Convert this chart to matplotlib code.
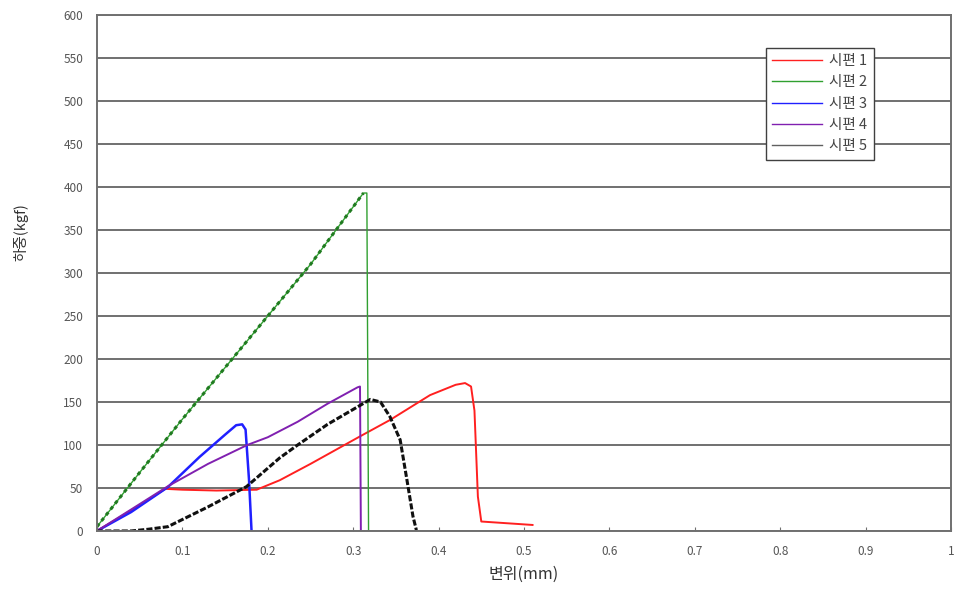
import matplotlib
matplotlib.use("Agg")
import matplotlib.pyplot as plt

plt.rcParams['font.family'] = ['Noto Sans CJK KR', 'DejaVu Sans']

# 시편 1 (red)
x1 = [0.0, 0.02, 0.05, 0.08, 0.1, 0.14, 0.187, 0.214, 0.25, 0.308, 0.343, 0.39, 0.42, 0.431, 0.438, 0.442, 0.446, 0.45, 0.48, 0.51]
y1 = [0, 12, 30, 49, 48, 47, 48, 59, 78, 110, 129, 158, 170, 172, 168, 140, 40, 11, 9, 7]
# 시편 2 (green)
x2 = [0.0, 0.05, 0.1, 0.15, 0.2, 0.25, 0.312, 0.316, 0.318]
y2 = [5, 68, 130, 190, 250, 310, 393, 393, 0]
# 시편 3 (blue)
x3 = [0.0, 0.04, 0.083, 0.12, 0.15, 0.163, 0.17, 0.174, 0.178, 0.181]
y3 = [0, 22, 51, 86, 112, 123, 124, 118, 60, 0]
# 시편 4 (purple)
x4 = [0.0, 0.04, 0.083, 0.13, 0.176, 0.2, 0.235, 0.27, 0.305, 0.308, 0.309]
y4 = [0, 25, 52, 78, 100, 109, 127, 148, 167, 168, 0]
# 시편 5 (black)
x5 = [0.0, 0.04, 0.06, 0.083, 0.13, 0.175, 0.214, 0.235, 0.27, 0.308, 0.32, 0.332, 0.343, 0.355, 0.363, 0.37, 0.374]
y5 = [0, 0, 2, 5, 28, 51.5, 85, 100, 124, 146, 153, 150, 133, 106, 59, 17, 1]

labels = ["시편 1", "시편 2", "시편 3", "시편 4", "시편 5"]

fig = plt.figure(figsize=(9.59, 5.96), dpi=100)
ax = fig.add_axes([0.1011, 0.1091, 0.8906, 0.8657])

ax.plot(x1, y1, color="#ff2020", lw=1.4, label=labels[0])
ax.plot(x2, y2, color="#30a030", lw=1.0, label=labels[1])
ax.plot(x2[:-2], y2[:-2], color="#207a20", lw=2.2, linestyle=(0, (1.2, 1.2)), label="_nolegend_")
ax.plot(x3, y3, color="#2020ff", lw=1.8, label=labels[2])
ax.plot(x4, y4, color="#8020b0", lw=1.4, label=labels[3])
ax.plot(x5, y5, color="#101010", lw=2.2, linestyle=(0, (2, 0.7)), label="_nolegend_")
ax.plot([], [], color="#606060", lw=1.2, label=labels[4])

ax.set_xlim(0, 1)
ax.set_ylim(0, 600)
ax.set_xticks([0, 0.1, 0.2, 0.3, 0.4, 0.5, 0.6, 0.7, 0.8, 0.9, 1])
ax.set_xticklabels(["0", "0.1", "0.2", "0.3", "0.4", "0.5", "0.6", "0.7", "0.8", "0.9", "1"])
ax.set_yticks(range(0, 601, 50))
ax.yaxis.grid(True, color="#707070", lw=1.4)
ax.set_axisbelow(True)
ax.tick_params(axis="x", direction="in", length=3, colors="#707070", labelsize=8.5, labelcolor="#555555", pad=10)
ax.tick_params(axis="y", length=0, labelsize=8.5, labelcolor="#555555", pad=10)
for s in ax.spines.values():
    s.set_color("#707070")
    s.set_linewidth(1.4)

ax.set_xlabel("변위(mm)", fontsize=11.5, color="#333333", labelpad=6)
ax.set_ylabel("하중(kgf)", fontsize=10.5, color="#333333")
ax.yaxis.set_label_coords(-0.08, 0.58)

leg = ax.legend(loc="upper left", bbox_to_anchor=(0.783, 0.937), fontsize=10.5, frameon=True,
                fancybox=False, framealpha=1, edgecolor="#404040", handlelength=3.4,
                handletextpad=0.5, borderpad=0.45, labelspacing=0.5, borderaxespad=0)
leg.get_frame().set_linewidth(1.0)
for t in leg.get_texts():
    t.set_color("#444444")
for h in leg.get_lines():
    h.set_linewidth(1.0)

fig.savefig("out.png", dpi=100)
